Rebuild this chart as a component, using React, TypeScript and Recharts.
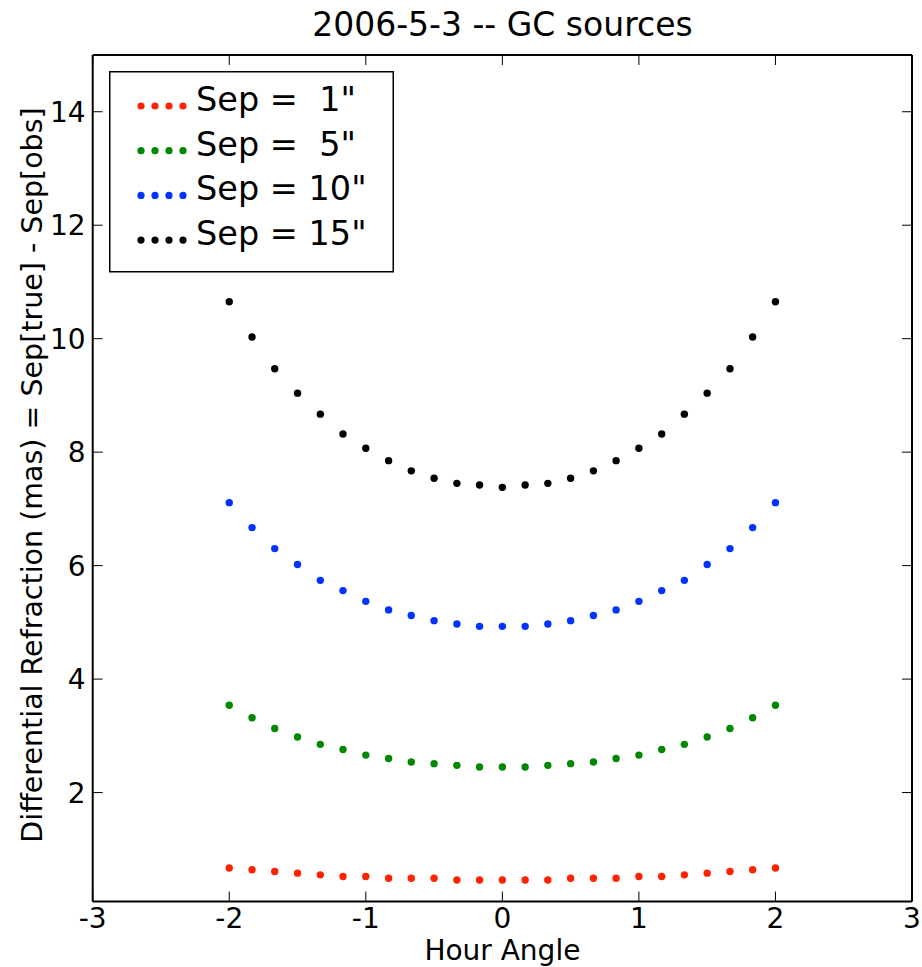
import React from 'react';
import { ScatterChart, Scatter, XAxis, YAxis, Legend } from 'recharts';

const hourAngles = [
  -2, -1.833, -1.667, -1.5, -1.333, -1.167, -1, -0.833, -0.667, -0.5, -0.333, -0.167, 0,
  0.167, 0.333, 0.5, 0.667, 0.833, 1, 1.167, 1.333, 1.5, 1.667, 1.833, 2,
];

const sep1 = [
  0.67, 0.64, 0.61, 0.58, 0.55, 0.52, 0.52, 0.49, 0.49, 0.49, 0.46, 0.46, 0.46,
  0.46, 0.46, 0.49, 0.49, 0.49, 0.52, 0.52, 0.55, 0.58, 0.61, 0.64, 0.67,
];
const sep5 = [
  3.54, 3.32, 3.13, 2.98, 2.85, 2.76, 2.66, 2.6, 2.54, 2.51, 2.48, 2.45, 2.45,
  2.45, 2.48, 2.51, 2.54, 2.6, 2.66, 2.76, 2.85, 2.98, 3.13, 3.32, 3.54,
];
const sep10 = [
  7.11, 6.67, 6.3, 6.02, 5.74, 5.56, 5.37, 5.22, 5.12, 5.03, 4.97, 4.93, 4.93,
  4.93, 4.97, 5.03, 5.12, 5.22, 5.37, 5.56, 5.74, 6.02, 6.3, 6.67, 7.11,
];
const sep15 = [
  10.65, 10.03, 9.47, 9.04, 8.67, 8.32, 8.07, 7.85, 7.67, 7.54, 7.45, 7.42, 7.38,
  7.42, 7.45, 7.54, 7.67, 7.85, 8.07, 8.32, 8.67, 9.04, 9.47, 10.03, 10.65,
];

const seriesNames = ['Sep =  1"', 'Sep =  5"', 'Sep = 10"', 'Sep = 15"'];
const seriesColors = ['#ff2200', '#008800', '#0033ff', '#000000'];
const seriesValues = [sep1, sep5, sep10, sep15];

const xTicks = [-3, -2, -1, 0, 1, 2, 3];
const yTicks = [2, 4, 6, 8, 10, 12, 14];

const titleText = '2006-5-3 -- GC sources';
const xLabel = 'Hour Angle';
const yLabel = 'Differential Refraction (mas) = Sep[true] - Sep[obs]';

const FONT = '"DejaVu Sans", Verdana, sans-serif';
const TICK_LEN = 10;
const FRAME = { stroke: '#000', strokeWidth: 2 };

const BottomTick = (props: any) => {
  const { x, payload } = props;
  const y = 901.5;
  return (
    <g>
      <line x1={x} y1={y} x2={x} y2={y - TICK_LEN} stroke="#000" strokeWidth={1} />
      <text x={x} y={y + 26.5} textAnchor="middle" fontFamily={FONT} fontSize={28} fill="#000">
        {payload.value}
      </text>
    </g>
  );
};

const TopTick = (props: any) => {
  const { x } = props;
  const y = 55;
  return <line x1={x} y1={y} x2={x} y2={y + TICK_LEN} stroke="#000" strokeWidth={1} />;
};

const LeftTick = (props: any) => {
  const { y, payload } = props;
  const x = 92.7;
  return (
    <g>
      <line x1={x} y1={y} x2={x + TICK_LEN} y2={y} stroke="#000" strokeWidth={1} />
      <text x={x - 7} y={y + 10} textAnchor="end" fontFamily={FONT} fontSize={28} fill="#000">
        {payload.value}
      </text>
    </g>
  );
};

const RightTick = (props: any) => {
  const { y } = props;
  const x = 912;
  return <line x1={x} y1={y} x2={x - TICK_LEN} y2={y} stroke="#000" strokeWidth={1} />;
};

const Dot = (color: string) => (props: any) => {
  const { cx, cy } = props;
  if (cx == null || cy == null) return <g />;
  return <circle cx={cx} cy={cy} r={3.7} fill={color} />;
};

const LegendBox = () => {
  const rowStart = 35;
  const rowGap = 44.7;
  return (
    <svg width={285} height={202} style={{ display: 'block' }}>
      <rect x={0.75} y={0.75} width={283.5} height={200} fill="#fff" stroke="#000" strokeWidth={1.5} />
      {seriesNames.map((name, i) => {
        const cy = rowStart + i * rowGap;
        return (
          <g key={name}>
            {[32, 46, 60, 74].map((cx) => (
              <circle key={cx} cx={cx} cy={cy} r={3.6} fill={seriesColors[i]} />
            ))}
            <text
              x={87}
              y={cy + 5}
              fontFamily={FONT}
              fontSize={33.5}
              fill="#000"
              style={{ whiteSpace: 'pre' }}
              xmlSpace="preserve"
            >
              {name}
            </text>
          </g>
        );
      })}
    </svg>
  );
};

export default function App() {
  const datasets = seriesValues.map((vals) => hourAngles.map((x, i) => ({ x, y: vals[i] })));
  return (
    <div style={{ position: 'absolute', left: 0, top: 0, background: '#fff' }}>
      <ScatterChart
        width={922}
        height={967}
        margin={{ top: 54, right: 9, bottom: 64.5, left: 91.7 }}
      >
        <XAxis
          xAxisId="b"
          dataKey="x"
          type="number"
          orientation="bottom"
          domain={[-3, 3]}
          ticks={xTicks}
          interval={0}
          allowDataOverflow
          height={1}
          tickSize={0}
          tickMargin={0}
          tickLine={false}
          axisLine={FRAME}
          tick={<BottomTick />}
          label={{
            content: () => (
              <text
                x={502.4}
                y={959.5}
                textAnchor="middle"
                fontFamily={FONT}
                fontSize={28}
                fill="#000"
              >
                {xLabel}
              </text>
            ),
          }}
        />
        <XAxis
          xAxisId="t"
          dataKey="x"
          type="number"
          orientation="top"
          domain={[-3, 3]}
          ticks={xTicks}
          interval={0}
          allowDataOverflow
          height={1}
          tickSize={0}
          tickMargin={0}
          tickLine={false}
          axisLine={FRAME}
          tick={<TopTick />}
          label={{
            content: () => (
              <text
                x={502.4}
                y={36}
                textAnchor="middle"
                fontFamily={FONT}
                fontSize={33}
                fill="#000"
              >
                {titleText}
              </text>
            ),
          }}
        />
        <YAxis
          yAxisId="l"
          dataKey="y"
          type="number"
          orientation="left"
          domain={[0.08, 15]}
          ticks={yTicks}
          interval={0}
          allowDataOverflow
          width={1}
          tickSize={0}
          tickMargin={0}
          tickLine={false}
          axisLine={FRAME}
          tick={<LeftTick />}
          label={{
            content: () => (
              <text
                x={42}
                y={475}
                transform="rotate(-90, 42, 475)"
                textAnchor="middle"
                fontFamily={FONT}
                fontSize={28.5}
                fill="#000"
              >
                {yLabel}
              </text>
            ),
          }}
        />
        <YAxis
          yAxisId="r"
          dataKey="y"
          type="number"
          orientation="right"
          domain={[0.08, 15]}
          ticks={yTicks}
          interval={0}
          allowDataOverflow
          width={1}
          tickSize={0}
          tickMargin={0}
          tickLine={false}
          axisLine={FRAME}
          tick={<RightTick />}
        />
        {datasets.map((d, i) => (
          <Scatter
            key={seriesNames[i]}
            name={seriesNames[i]}
            data={d}
            xAxisId="b"
            yAxisId="l"
            fill={seriesColors[i]}
            shape={Dot(seriesColors[i])}
            isAnimationActive={false}
          />
        ))}
        <Legend
          layout="vertical"
          align="center"
          verticalAlign="middle"
          wrapperStyle={{ left: 109, top: 71, width: 285, height: 202 }}
          content={<LegendBox />}
        />
      </ScatterChart>
    </div>
  );
}
